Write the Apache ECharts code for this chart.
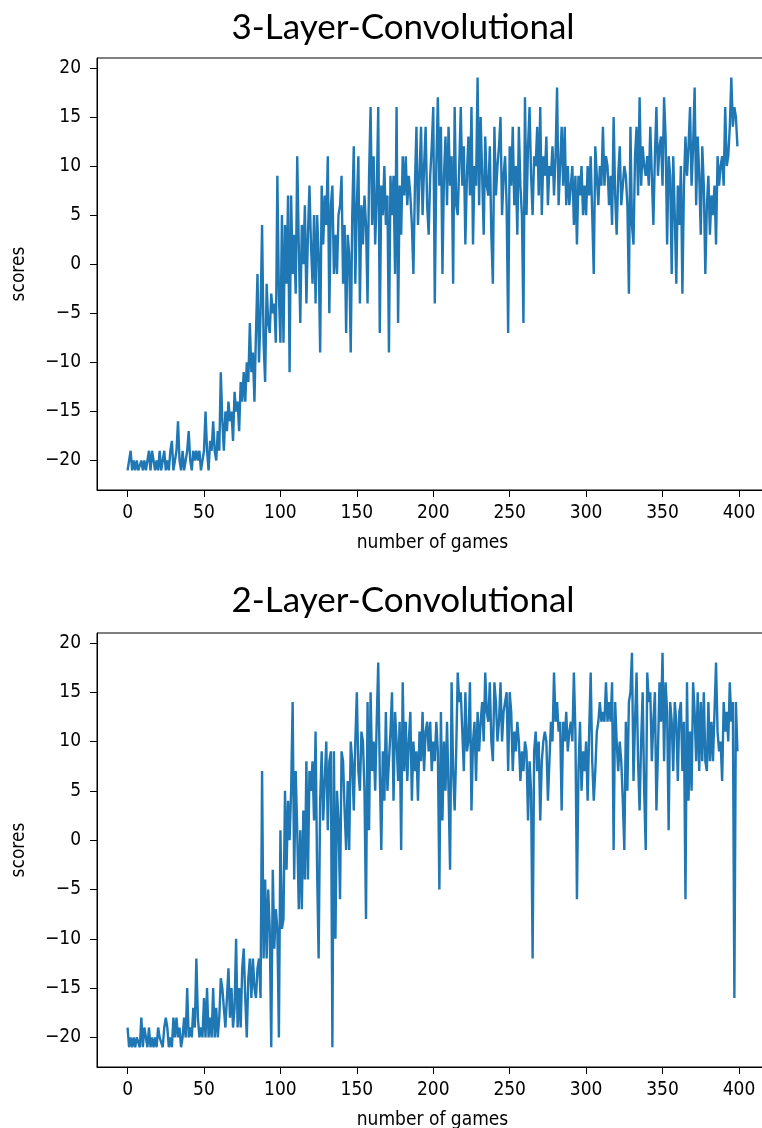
<!DOCTYPE html>
<html>
<head>
<meta charset="utf-8">
<script src="https://cdn.jsdelivr.net/npm/echarts@6/dist/echarts.min.js"></script>
<style>
  html, body { margin: 0; padding: 0; background: #fff; }
  #chart { width: 762px; height: 1128px; }
</style>
</head>
<body>
<div id="chart"></div>
<script>
  // scores per game
  const conv3Scores = [
    -21, -20, -19, -21, -20, -21, -20, -21, -21, -20, -21, -20, -21, -20, -19, -21, -19, -20, -21, -20,
    -21, -19, -21, -20, -19, -21, -20, -21, -19, -18, -21, -20, -19, -16, -20, -21, -19, -21, -20, -19,
    -17, -20, -21, -19, -20, -19, -20, -19, -21, -20, -19, -15, -19, -21, -18, -19, -16, -19, -20, -17,
    -19, -11, -16, -19, -15, -17, -14, -16, -15, -18, -13, -15, -14, -17, -12, -14, -11, -14, -10, -12,
    -6, -11, -9, -14, -7, -1, -10, -5, 4, -8, -12, -2, -6, -7, -3, -5, -4, -8, 9, -3,
    -8, 5, -8, 4, -2, 7, -11, 7, -1, 3, -3, 11, 2, -6, 4, 0, 6, -4, 3, 8,
    2, -2, 5, -4, 5, 1, -9, 8, 2, 7, 4, 11, -5, 6, 8, -1, 3, -1, 5, 6,
    9, -2, 4, -7, 3, 1, -9, 5, 12, -2, 6, 11, -4, 6, 2, 7, 4, -4, 9, 16,
    4, 11, 2, 7, 16, -7, 8, 5, 10, 4, 7, -9, 9, 5, 9, -1, 16, -6, 8, 3,
    11, 7, 11, 6, 9, 7, 4, -1, 8, 14, 4, 9, 14, 5, 10, 14, 6, 3, 9, 12,
    16, -4, 10, 17, 8, 14, -1, 9, 13, 6, 14, 8, 11, -2, 16, 6, 5, 10, 16, 8,
    12, 2, 9, 13, 7, 16, 2, 10, 8, 19, 6, 15, 9, 3, 13, 8, 7, 12, 3, -2,
    14, 7, 10, 12, 15, 5, 9, 11, 6, -7, 12, 8, 14, 6, 10, 3, 14, 8, 5, -6,
    17, 5, 12, 16, 9, 5, 11, 10, 14, 7, 16, 5, 11, 9, 13, 6, 10, 9, 12, 7,
    11, 18, 6, 10, 14, 8, 14, 6, 10, 6, 8, 10, 4, 9, 2, 9, 7, 10, 5, 8,
    5, 10, 7, 11, 5, -1, 12, 9, 6, 10, 8, 14, 8, 11, 10, 6, 9, 4, 15, 7,
    3, 9, 12, 6, 8, 10, 9, 6, -3, 14, 4, 2, 11, 14, 7, 17, 8, 12, 10, 9,
    11, 8, 14, 9, 4, 11, 16, 9, 12, 13, 8, 17, 13, 2, 11, 9, -1, 11, 5, -2,
    8, 4, 10, -3, 8, 13, 9, 12, 16, 8, 12, 18, 6, 13, 9, 3, 12, 8, -1, 6,
    9, 3, 7, 5, 8, 2, 11, 8, 10, 11, 8, 16, 10, 11, 14, 19, 14, 16, 15, 12
  ]

  const conv2Scores = [
    -19, -21, -20, -21, -20, -21, -20, -20, -21, -18, -21, -19, -20, -21, -19, -21, -20, -21, -20, -21,
    -19, -20, -20, -21, -19, -18, -19, -21, -20, -21, -18, -20, -18, -20, -19, -21, -20, -18, -20, -15,
    -20, -19, -20, -17, -19, -12, -18, -20, -19, -20, -16, -20, -15, -20, -18, -20, -15, -20, -17, -20,
    -18, -14, -15, -17, -19, -16, -13, -18, -15, -19, -17, -10, -19, -15, -19, -13, -11, -16, -20, -14,
    -12, -16, -12, -15, -16, -13, -12, -16, 7, -12, -4, -12, -5, -9, -21, -3, -11, -7, -9, -20,
    1, -9, -8, 5, -3, 4, 0, 5, 14, -4, 7, 1, -7, 1, -7, 3, -4, 8, -4, 7,
    5, 8, 2, 11, -3, -12, 4, 9, 2, 6, 10, 1, 8, 9, -21, 9, -10, 5, 2, -6,
    9, 8, 3, -1, 6, -1, 10, 8, 3, 10, 15, 7, 5, 11, 10, 5, -8, 14, 1, 15,
    7, 10, 5, 12, 18, 7, -1, 9, 4, 13, 5, 8, 11, 15, 4, 13, 10, 6, 12, -1,
    16, 7, 12, 6, 10, 13, 4, 10, 7, 9, 4, 11, 8, 13, 7, 11, 12, 9, 12, 7,
    10, 8, 12, 9, -5, 13, 2, 10, 5, 12, 5, -3, 16, 7, 3, 9, 17, 14, 15, 11,
    7, 15, 9, 10, 16, 3, 10, 12, 6, 13, 9, 12, 14, 10, 17, 13, 12, 16, 10, 8,
    16, 14, 10, 12, 16, 10, 13, 14, 15, 7, 15, 13, 7, 11, 9, 12, 10, 6, 9, 7,
    10, 9, 2, 8, 5, -12, 9, 11, 7, 10, 2, 8, 10, 11, 10, 4, 8, 12, 10, 17,
    12, 14, 11, 12, 3, 12, 10, 13, 9, 11, 12, 10, 17, 11, -6, 7, 12, 5, 9, 7,
    10, 4, 11, 17, 8, 4, 7, 11, 12, 14, 12, 13, 12, 16, 12, 14, 12, 16, -1, 14,
    10, 7, 10, 8, 4, -1, 12, 5, 14, 15, 19, 6, 12, 17, 8, 3, 10, 15, 5, -1,
    17, 14, 15, 8, 12, 15, 3, 9, 16, 12, 19, 8, 16, 13, 1, 14, 12, 7, 14, 12,
    6, 13, 14, 7, 12, -6, 16, 4, 11, 5, 16, 13, 8, 15, 7, 14, 8, 15, 8, 7,
    14, 8, 12, 8, 13, 18, 11, 9, 10, 6, 14, 11, 13, 10, 16, 12, 14, -16, 14, 9
  ]

  const panelTitles = ['3-Layer-Convolutional', '2-Layer-Convolutional']
  const xTicks = [0, 50, 100, 150, 200, 250, 300, 350, 400]
  const yTicks = [-20, -15, -10, -5, 0, 5, 10, 15, 20]

  const chart = echarts.init(document.getElementById('chart'))

  const tickFont = "'DejaVu Sans Condensed', 'DejaVu Sans', sans-serif"
  const titleFont = "35px Lato, 'Open Sans', sans-serif"
  const minus = v => String(v).replace('-', '\u2212')

  function xAxisFor(idx) {
    return {
      type: 'value',
      gridIndex: idx,
      min: -20,
      max: 419,
      name: 'number of games',
      nameLocation: 'middle',
      nameGap: 44,
      nameTextStyle: { color: '#000', fontSize: 19, fontFamily: tickFont },
      axisLine: { show: true, onZero: false, lineStyle: { color: '#000', width: 1 } },
      axisTick: { show: true, length: 7, customValues: xTicks, lineStyle: { color: '#000' } },
      axisLabel: { customValues: xTicks, margin: 14, color: '#000', fontSize: 19, fontFamily: tickFont },
      splitLine: { show: false }
    }
  }

  function yAxisFor(idx) {
    return {
      type: 'value',
      gridIndex: idx,
      min: -23,
      max: 21,
      name: 'scores',
      nameLocation: 'middle',
      nameGap: 68,
      nameRotate: 90,
      nameTextStyle: { color: '#000', fontSize: 19, fontFamily: tickFont },
      axisLine: { show: true, onZero: false, lineStyle: { color: '#000', width: 1 } },
      axisTick: { show: true, length: 7, customValues: yTicks, lineStyle: { color: '#000' } },
      axisLabel: { customValues: yTicks, margin: 16, color: '#000', fontSize: 19, fontFamily: tickFont, formatter: minus },
      splitLine: { show: false }
    }
  }

  chart.setOption({
    animation: false,
    backgroundColor: '#fff',
    graphic: [
      {
        type: 'text', x: 403, y: 28,
        style: { text: panelTitles[0], fill: '#000', font: titleFont, textAlign: 'center', textVerticalAlign: 'middle' }
      },
      {
        type: 'text', x: 403, y: 601,
        style: { text: panelTitles[1], fill: '#000', font: titleFont, textAlign: 'center', textVerticalAlign: 'middle' }
      }
    ],
    grid: [
      { left: 97, top: 58, width: 671, height: 432, outerBoundsMode: 'none', containLabel: false, show: true, borderColor: '#000', borderWidth: 1, backgroundColor: '#fff' },
      { left: 97, top: 633, width: 671, height: 434, outerBoundsMode: 'none', containLabel: false, show: true, borderColor: '#000', borderWidth: 1, backgroundColor: '#fff' }
    ],
    xAxis: [xAxisFor(0), xAxisFor(1)],
    yAxis: [yAxisFor(0), yAxisFor(1)],
    series: [
      {
        name: panelTitles[0],
        type: 'line',
        xAxisIndex: 0,
        yAxisIndex: 0,
        showSymbol: false,
        symbol: 'none',
        lineStyle: { color: '#1f77b4', width: 2.4 },
        data: conv3Scores.map((v, i) => [i, v])
      },
      {
        name: panelTitles[1],
        type: 'line',
        xAxisIndex: 1,
        yAxisIndex: 1,
        showSymbol: false,
        symbol: 'none',
        lineStyle: { color: '#1f77b4', width: 2.4 },
        data: conv2Scores.map((v, i) => [i, v])
      }
    ]
  })
</script>
</body>
</html>
